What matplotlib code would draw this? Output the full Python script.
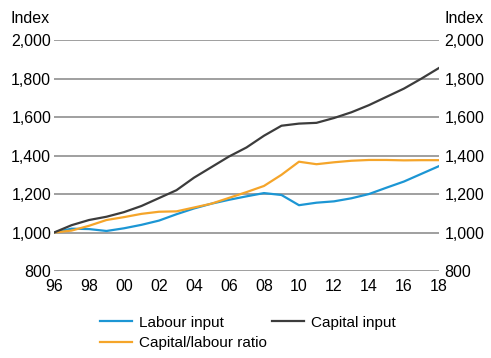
import matplotlib
matplotlib.use("Agg")
import matplotlib.pyplot as plt

plt.rcParams['font.family'] = ['Liberation Sans', 'DejaVu Sans']

years = list(range(1996, 2019))
labour = [1000, 1020, 1018, 1008, 1022, 1040, 1062, 1095, 1125, 1150, 1170, 1188,
          1205, 1195, 1142, 1155, 1162, 1178, 1200, 1233, 1265, 1305, 1345]
capital = [1000, 1038, 1065, 1082, 1106, 1138, 1179, 1220, 1285, 1340, 1395, 1442,
           1503, 1555, 1566, 1570, 1595, 1625, 1662, 1705, 1748, 1800, 1855]
ratio = [1000, 1010, 1035, 1065, 1080, 1097, 1108, 1110, 1130, 1150, 1180, 1210,
         1242, 1300, 1368, 1355, 1365, 1373, 1377, 1377, 1375, 1376, 1376]
yticks = [800, 1000, 1200, 1400, 1600, 1800, 2000]
xticks = list(range(1996, 2019, 2))
xlabels = ['%02d' % (y % 100) for y in xticks]

fig = plt.figure(figsize=(4.91, 3.58), dpi=100)
ax = fig.add_axes([0.11, 0.243, 0.784, 0.645])

for y in yticks:
    ax.axhline(y, color='#858585', lw=1.1, zorder=1)

ax.plot(years, labour, color='#1c96d4', lw=1.6, label='Labour input', zorder=3)
ax.plot(years, ratio, color='#f5a52a', lw=1.6, label='Capital/labour ratio', zorder=3)
ax.plot(years, capital, color='#3c3c3c', lw=1.6, label='Capital input', zorder=3)

ax.set_xlim(1996, 2018)
ax.set_ylim(800, 2000)
ax.set_xticks(xticks)
ax.set_xticklabels(xlabels, fontsize=11.5)
ax.set_yticks(yticks)
ax.set_yticklabels(['{:,}'.format(v) for v in yticks], fontsize=11.5)
ax.tick_params(length=0, pad=2)
ax.tick_params(axis='x', pad=6)
for s in ax.spines.values():
    s.set_visible(False)

ax2 = ax.twinx()
ax2.set_ylim(800, 2000)
ax2.set_yticks(yticks)
ax2.set_yticklabels(['{:,}'.format(v) for v in yticks], fontsize=11.5)
ax2.tick_params(length=0, pad=4)
for s in ax2.spines.values():
    s.set_visible(False)

fig.text(0.022, 0.948, 'Index', fontsize=11.5, va='center', ha='left')
fig.text(0.985, 0.948, 'Index', fontsize=11.5, va='center', ha='right')

fig.legend(loc='upper left', bbox_to_anchor=(0.192, 0.135), ncol=2, frameon=False,
           fontsize=11, handlelength=2.1, handletextpad=0.45, columnspacing=0.3,
           labelspacing=0.4, borderaxespad=0)

fig.savefig('out.png', dpi=100)
